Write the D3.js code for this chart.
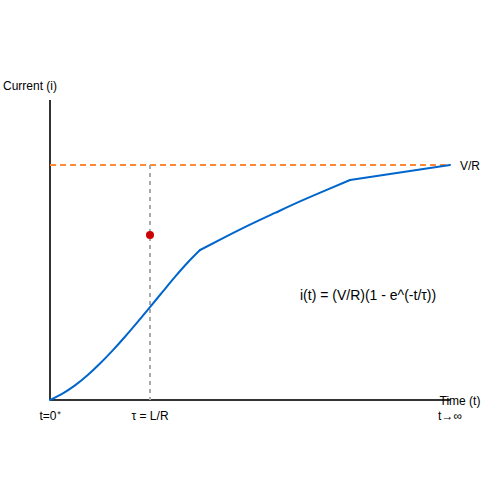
<!DOCTYPE html>
<html><head><meta charset="utf-8">
<script src="https://cdn.jsdelivr.net/npm/d3@7"></script>
<style>body{margin:0;background:#fff}svg{display:block}text{font-family:"Liberation Sans",Arial,sans-serif}</style>
</head><body>
<script>
// time in units of tau, current as fraction of V/R
const curveTimes = [0, 0.125, 0.25, 0.375, 0.5, 0.625, 0.75, 0.875, 1.0, 1.125, 1.25, 1.375, 1.5, 1.75, 2.0, 2.25, 2.5, 2.75, 3.0, 4.0];
const curveCurrents = [0, 0.027, 0.062, 0.105, 0.155, 0.210, 0.269, 0.331, 0.395, 0.460, 0.524, 0.584, 0.638, 0.693, 0.746, 0.796, 0.845, 0.891, 0.936, 1.0];
const segmentBreaks = [0, 1.5, 3.0, 4.0];
const asymptote = 1.0;
const tauTime = 1.0;
const markerPoint = {t: 1.0, i: 0.702};
const tickTimes = [0, 1, 4];
const tickLabels = ["t=0\u207A", "τ = L/R", "t→∞"];
const formula = "i(t) = (V/R)(1 - e^(-t/τ))";

const W = 500, H = 500;
const svg = d3.select("body").append("svg").attr("width", W).attr("height", H);
const x = d3.scaleLinear().domain([0, 4]).range([50, 450]);
const y = d3.scaleLinear().domain([0, 1]).range([400, 165]);
const yTop = y.invert(100);

// axes
svg.append("line").attr("x1", x(0)).attr("x2", x(0)).attr("y1", y(0)).attr("y2", y(yTop))
  .attr("stroke", "#333").attr("stroke-width", 2);
svg.append("line").attr("x1", x(0)).attr("x2", x(4)).attr("y1", y(0)).attr("y2", y(0))
  .attr("stroke", "#333").attr("stroke-width", 2);

// asymptote
svg.append("line").attr("x1", x(0)).attr("x2", x(4)).attr("y1", y(asymptote)).attr("y2", y(asymptote))
  .attr("stroke", "#ff8833").attr("stroke-width", 2).attr("stroke-dasharray", "6,4");
// tau line
svg.append("line").attr("x1", x(tauTime)).attr("x2", x(tauTime)).attr("y1", y(asymptote)).attr("y2", y(0))
  .attr("stroke", "#aaa").attr("stroke-width", 2).attr("stroke-dasharray", "4,4");

// curve, drawn as smooth segments joined at the break times
const data = curveTimes.map((t, k) => ({t, i: curveCurrents[k]}));
const segments = d3.pairs(segmentBreaks).map(([a, b]) => data.filter(d => d.t >= a && d.t <= b));
const line = d3.line().x(d => x(d.t)).y(d => y(d.i)).curve(d3.curveMonotoneX);
svg.selectAll(".seg").data(segments).join("path")
  .attr("d", line)
  .attr("fill", "none").attr("stroke", "#0066cc").attr("stroke-width", 2).attr("stroke-linecap", "round");

svg.append("circle").attr("cx", x(markerPoint.t)).attr("cy", y(markerPoint.i)).attr("r", 4).attr("fill", "#cc0000");

// labels
svg.append("text").attr("x", 30).attr("y", 90).attr("text-anchor", "middle").attr("font-size", 12).text("Current (i)");
svg.append("text").attr("x", 460).attr("y", 405).attr("text-anchor", "middle").attr("font-size", 12).text("Time (t)");
svg.append("text").attr("x", 460).attr("y", y(asymptote) + 5).attr("font-size", 12).text("V/R");
svg.selectAll(".tick").data(tickTimes).join("text")
  .attr("x", d => x(d)).attr("y", 420).attr("text-anchor", "middle").attr("font-size", 12)
  .text((d, k) => tickLabels[k]);
svg.append("text").attr("x", 300).attr("y", 300).attr("font-size", 14).text(formula);
</script>
</body></html>
